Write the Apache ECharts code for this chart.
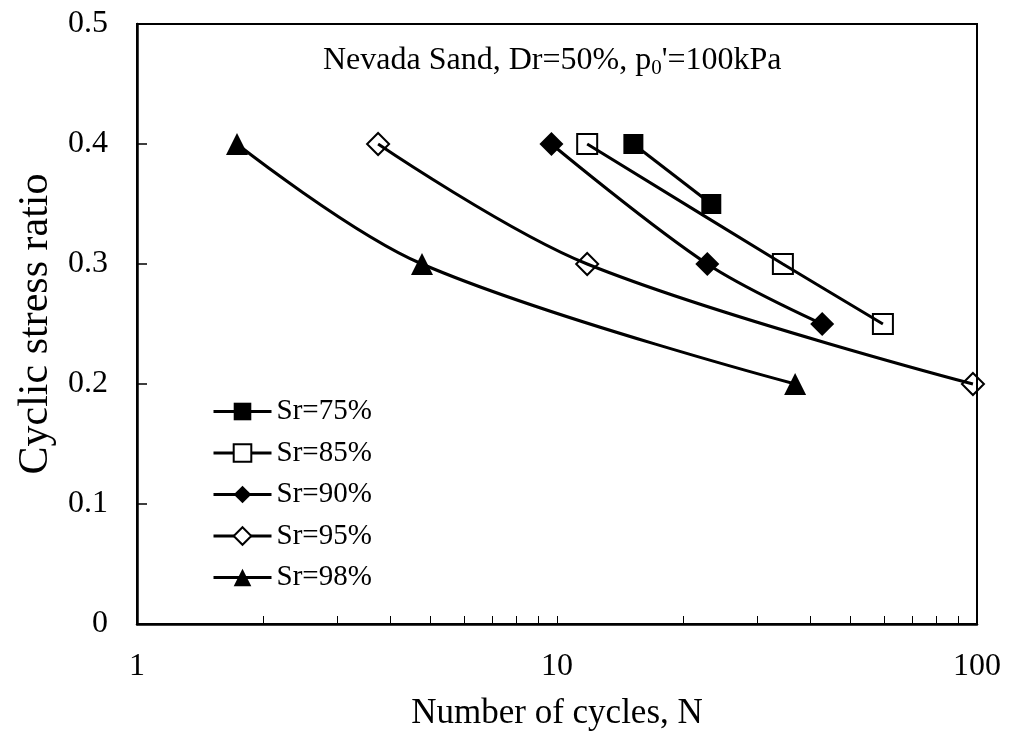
<!DOCTYPE html>
<html>
<head>
<meta charset="utf-8">
<script src="https://cdn.jsdelivr.net/npm/echarts@6/dist/echarts.min.js"></script>
<style>
html,body{margin:0;padding:0;background:#fff;}
#chart{width:1011px;height:741px;}
</style>
</head>
<body>
<div id="chart"></div>
<script>
// Data
var seriesNames = ['Sr=75%', 'Sr=85%', 'Sr=90%', 'Sr=95%', 'Sr=98%'];
var cycles75 = [15.2, 23.3];
var csr75 = [0.40, 0.35];
var cycles85 = [11.8, 34.5, 59.7];
var csr85 = [0.40, 0.30, 0.25];
var cycles90 = [9.7, 22.8, 42.8];
var csr90 = [0.40, 0.30, 0.25];
var cycles95 = [3.75, 11.8, 97.8];
var csr95 = [0.40, 0.30, 0.20];
var cycles98 = [1.73, 4.77, 36.9];
var csr98 = [0.40, 0.30, 0.20];
var xTickValues = [1,2,3,4,5,6,7,8,9,10,20,30,40,50,60,70,80,90,100];
var xLabelValues = [1, 10, 100];
var yTickLabels = ['0', '0.1', '0.2', '0.3', '0.4', '0.5'];

var FONT = "'Liberation Serif', 'Times New Roman', serif";

function pairs(xs, ys) {
  return xs.map(function (x, i) { return [x, ys[i]]; });
}

var styles = [
  { symbol: 'rect', size: 20, fill: '#000' },
  { symbol: 'rect', size: 20, fill: 'none' },
  { symbol: 'diamond', size: 24, fill: '#000' },
  { symbol: 'diamond', size: 22, fill: 'none' },
  { symbol: 'triangle', size: 22, fill: '#000' }
];
var dataSets = [
  pairs(cycles75, csr75),
  pairs(cycles85, csr85),
  pairs(cycles90, csr90),
  pairs(cycles95, csr95),
  pairs(cycles98, csr98)
];

var series = seriesNames.map(function (name, i) {
  var st = styles[i];
  return {
    name: name,
    type: 'line',
    data: dataSets[i],
    smooth: 0.35,
    symbol: st.symbol,
    symbolSize: st.size,
    showAllSymbol: true,
    lineStyle: { color: '#000', width: 3 },
    itemStyle: { color: st.fill, borderColor: '#000', borderWidth: st.fill === 'none' ? 2 : 0 },
    emphasis: { disabled: true },
    z: 3
  };
});

var chart = echarts.init(document.getElementById('chart'), null, { renderer: 'canvas' });
chart.setOption({
  animation: false,
  backgroundColor: '#fff',
  textStyle: { fontFamily: FONT, color: '#000' },
  title: {
    text: "Nevada Sand, Dr=50%, p{sub|0}'=100kPa",
    left: 318,
    top: 37,
    textStyle: {
      fontFamily: FONT,
      fontSize: 32,
      fontWeight: 'normal',
      color: '#000',
      rich: {
        sub: { fontFamily: FONT, fontSize: 21, color: '#000', padding: [16, 0, 0, 0] }
      }
    }
  },
  grid: {
    left: 137, right: 34, top: 24, bottom: 117,
    show: true, borderColor: '#000', borderWidth: 2, backgroundColor: 'transparent'
  },
  legend: {
    orient: 'vertical',
    left: 207,
    top: 392,
    itemWidth: 58,
    itemHeight: 22,
    itemGap: 12.5,
    lineStyle: { width: 3, color: '#000' },
    data: seriesNames.map(function (n, i) {
      return { name: n, itemStyle: { color: styles[i].fill === 'none' ? '#fff' : '#000' } };
    }),
    textStyle: { fontFamily: FONT, fontSize: 29, color: '#000' }
  },
  xAxis: {
    type: 'log',
    logBase: 10,
    min: 1,
    max: 100,
    name: 'Number of cycles, N',
    nameLocation: 'middle',
    nameGap: 72,
    nameTextStyle: { fontFamily: FONT, fontSize: 35, color: '#000' },
    axisLine: { show: true, lineStyle: { color: '#000', width: 2.5 } },
    axisTick: { show: true, inside: true, length: 8, lineStyle: { color: '#000', width: 1 }, customValues: xTickValues },
    axisLabel: {
      fontFamily: FONT, fontSize: 32, color: '#000', margin: 27,
      customValues: xLabelValues,
      formatter: function (v) { return String(Math.round(v)); }
    },
    splitLine: { show: false }
  },
  yAxis: {
    type: 'value',
    min: 0,
    max: 0.5,
    interval: 0.1,
    name: 'Cyclic stress ratio',
    nameLocation: 'middle',
    nameGap: 79,
    nameRotate: 90,
    nameTextStyle: { fontFamily: FONT, fontSize: 42, color: '#000' },
    axisLine: { show: true, lineStyle: { color: '#000', width: 2.5 } },
    axisTick: { show: true, inside: true, length: 10, lineStyle: { color: '#000', width: 1.5 } },
    axisLabel: {
      fontFamily: FONT, fontSize: 32, color: '#000', margin: 29,
      formatter: function (v) { return yTickLabels[Math.round(v * 10)]; }
    },
    splitLine: { show: false }
  },
  series: series
});
</script>
</body>
</html>
